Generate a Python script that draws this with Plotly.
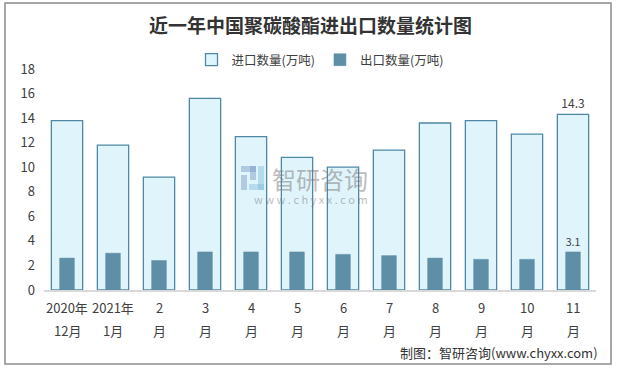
import plotly.graph_objects as go

categories = ["2020年<br>12月", "2021年<br>1月", "2<br>月", "3<br>月", "4<br>月", "5<br>月",
              "6<br>月", "7<br>月", "8<br>月", "9<br>月", "10<br>月", "11<br>月"]
import_qty = [13.8, 11.8, 9.2, 15.6, 12.5, 10.8, 10.0, 11.4, 13.6, 13.8, 12.7, 14.3]
export_qty = [2.6, 3.0, 2.4, 3.1, 3.1, 3.1, 2.9, 2.8, 2.6, 2.5, 2.5, 3.1]
y_ticks = [0, 2, 4, 6, 8, 10, 12, 14, 16, 18]

FONT = "Noto Sans CJK SC"
TXT = "#404040"

def last_label(vals):
    return ["" if i < len(vals) - 1 else f"{v:g}" for i, v in enumerate(vals)]

fig = go.Figure()
fig.add_trace(go.Bar(
    x=categories, y=import_qty, name="进口数量(万吨)", width=0.68,
    marker=dict(color="#e0f4fb", line=dict(color="#4f87a6", width=1.3)),
    text=last_label(import_qty), textposition="outside", cliponaxis=False,
    textfont=dict(size=12, color=TXT, family=FONT),
))
fig.add_trace(go.Bar(
    x=categories, y=export_qty, name="出口数量(万吨)", width=0.32,
    marker=dict(color="#5e8fa6", line=dict(color="#5e8fa6", width=0.5)),
    text=last_label(export_qty), textposition="outside", cliponaxis=False,
    textfont=dict(size=12, color=TXT, family=FONT),
))

W, H = 621, 369
L, R, T, B = 44, 25, 69, 79
pw, ph = W - L - R, H - T - B

def px(x):
    return (x - L) / pw

def py(y):
    return (H - B - y) / ph

annotations = [
    dict(text="制图：智研咨询(www.chyxx.com)", xref="paper", yref="paper",
         x=px(600), y=py(352), xanchor="right", yanchor="middle", showarrow=False,
         font=dict(size=13, color="#333333")),
    dict(text="智研咨询", xref="paper", yref="paper", x=px(270), y=py(178),
         xanchor="left", yanchor="middle", showarrow=False,
         font=dict(size=24, color="rgba(120,120,120,0.5)")),
    dict(text="w w w . c h y x x . c o m", xref="paper", yref="paper", x=px(311), y=py(199),
         xanchor="center", yanchor="middle", showarrow=False,
         font=dict(size=11, color="rgba(120,120,120,0.5)")),
]
# two-line category labels
for c in categories:
    top, bottom = c.split("<br>")
    annotations.append(dict(text=top, x=c, xref="x", yref="paper", y=py(307), yanchor="middle",
                            showarrow=False, font=dict(size=13, color=TXT)))
    annotations.append(dict(text=bottom, x=c, xref="x", yref="paper", y=py(330), yanchor="middle",
                            showarrow=False, font=dict(size=13, color=TXT)))

logo_color = "rgba(120,150,195,0.45)"
shapes = [
    dict(type="rect", xref="paper", yref="paper",
         x0=px(5), x1=px(611), y0=py(364), y1=py(3),
         line=dict(color="#8c8c8c", width=1.5), fillcolor="rgba(0,0,0,0)", layer="below"),
    # watermark logo
    dict(type="rect", xref="paper", yref="paper", x0=px(241), x1=px(256), y0=py(172), y1=py(166),
         line=dict(width=0), fillcolor=logo_color),
    dict(type="rect", xref="paper", yref="paper", x0=px(250), x1=px(256), y0=py(180), y1=py(166),
         line=dict(width=0), fillcolor=logo_color),
    dict(type="rect", xref="paper", yref="paper", x0=px(241), x1=px(247), y0=py(190), y1=py(175),
         line=dict(width=0), fillcolor=logo_color),
    dict(type="rect", xref="paper", yref="paper", x0=px(258), x1=px(264), y0=py(190), y1=py(166),
         line=dict(width=0), fillcolor="rgba(120,180,220,0.4)"),
    dict(type="rect", xref="paper", yref="paper", x0=px(249), x1=px(264), y0=py(190), y1=py(184),
         line=dict(width=0), fillcolor="rgba(120,180,220,0.4)"),
]

fig.update_layout(
    width=W, height=H, barmode="overlay",
    margin=dict(l=L, r=R, t=T, b=B, autoexpand=False),
    paper_bgcolor="white", plot_bgcolor="white",
    font=dict(family=FONT, color=TXT, size=13),
    title=dict(text="<b>近一年中国聚碳酸酯进出口数量统计图</b>", x=0.5, xanchor="center",
               y=1 - 26 / H, yanchor="middle", font=dict(size=19, color="#333333", family=FONT)),
    legend=dict(orientation="h", x=0.5, xanchor="center", y=py(60), yanchor="middle",
                font=dict(size=12.5, color=TXT), traceorder="normal"),
    xaxis=dict(showline=True, linecolor="#d9d9d9", linewidth=1.5, ticks="",
               showticklabels=False, automargin=False, fixedrange=True),
    yaxis=dict(range=[0, 18], tickvals=y_ticks, showgrid=False, zeroline=False, automargin=False,
               showline=False, tickfont=dict(size=13, color=TXT), ticklabelstandoff=8),
    shapes=shapes,
    annotations=annotations,
)

fig.write_html("out.html", config={"displayModeBar": False},
               post_script="document.body.style.margin='0';document.body.style.overflow='hidden';")
